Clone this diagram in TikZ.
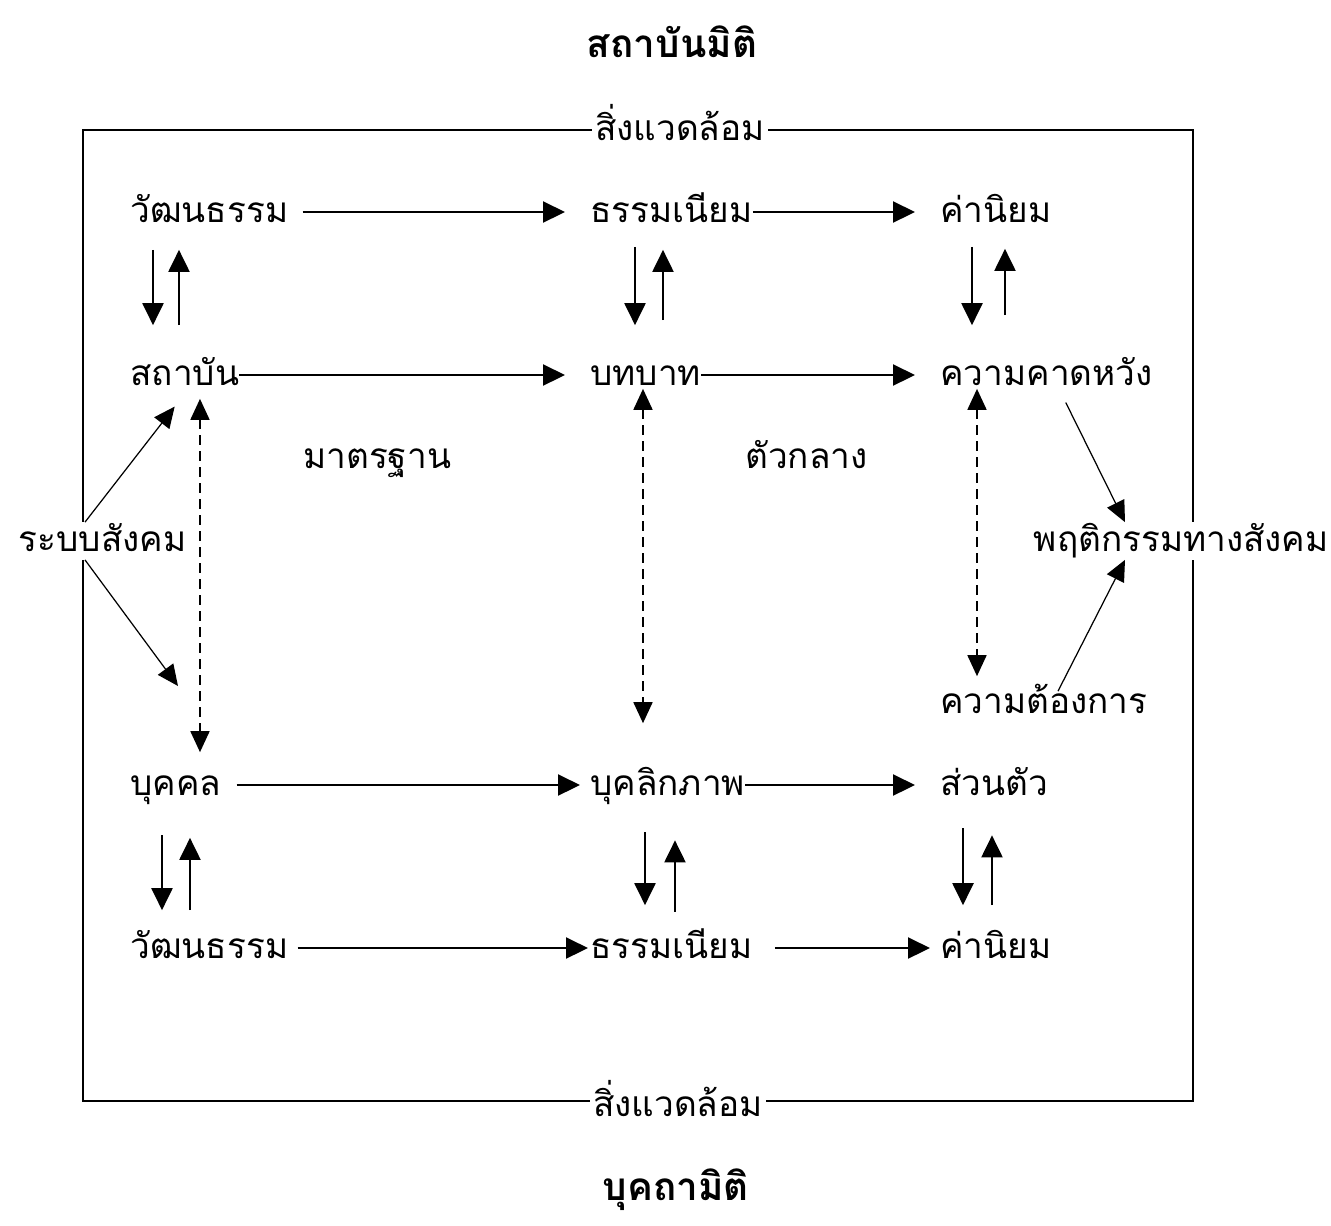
\documentclass[tikz,border=0pt]{standalone}
\usepackage{fontspec}
\usepackage{tikz}
\usetikzlibrary{arrows.meta}
\newfontfamily\thaifont[Script=Thai]{Loma}

\begin{document}
\begin{tikzpicture}[x=0.02cm,y=-0.02cm,
	lbl/.style={font=\thaifont\fontsize{20}{24}\selectfont,inner sep=0pt,anchor=west,text height=0.44cm,text depth=0.02cm},
	gap/.style={fill=white,inner xsep=2pt,inner ysep=4pt},
	head/.style={font=\thaifont\bfseries\fontsize{22}{26}\selectfont},
	flow/.style={-{Triangle[length=0.44cm,width=0.42cm]},line width=1.2pt},
	link/.style={-{Triangle[length=0.42cm,width=0.38cm]},line width=0.7pt},
	both/.style={{Triangle[length=0.42cm,width=0.38cm]}-{Triangle[length=0.42cm,width=0.38cm]},line width=1pt,dash pattern=on 0.2cm off 0.12cm}]
	
	\useasboundingbox (0,0) rectangle (1331,1225);
	
	% Draw the frame
	\draw[line width=1.2pt] (83,130) rectangle (1193,1101);
	
	% Draw nodes
	\node[head] (IT) at (672,42) {สถาบันมิติ};
	\node[head] (PT) at (676,1190) {บุคถามิติ};
	\node[lbl,anchor=center,gap] (EnvT) at (680,130) {สิ่งแวดล้อม};
	\node[lbl,anchor=center,gap] (EnvB) at (678,1106) {สิ่งแวดล้อม};
	
	\node[lbl] (W1) at (130,212) {วัฒนธรรม};
	\node[lbl] (T1) at (590,212) {ธรรมเนียม};
	\node[lbl] (V1) at (940,212) {ค่านิยม};
	\node[lbl] (Ins) at (130,375) {สถาบัน};
	\node[lbl] (Role) at (590,375) {บทบาท};
	\node[lbl] (Exp) at (940,375) {ความคาดหวัง};
	\node[lbl] (Std) at (303,458) {มาตรฐาน};
	\node[lbl] (Med) at (745,458) {ตัวกลาง};
	\node[lbl,gap] (Soc) at (15,541) {ระบบสังคม};
	\node[lbl,gap] (Beh) at (1030,541) {พฤติกรรมทางสังคม};
	\node[lbl] (Need) at (940,703) {ความต้องการ};
	\node[lbl] (Ind) at (130,785) {บุคคล};
	\node[lbl] (Pers) at (590,785) {บุคลิกภาพ};
	\node[lbl] (Own) at (940,785) {ส่วนตัว};
	\node[lbl] (W2) at (130,948) {วัฒนธรรม};
	\node[lbl] (T2) at (590,948) {ธรรมเนียม};
	\node[lbl] (V2) at (940,948) {ค่านิยม};
	
	\coordinate (IndIn) at (178,686);
	
	% Draw arrows along the rows
	\draw[flow,shorten <=0.28cm,shorten >=0.5cm] (W1) -- (T1);
	\draw[flow,shorten >=0.5cm] (T1) -- (V1);
	\draw[flow,shorten >=0.5cm] (Ins) -- (Role);
	\draw[flow,shorten >=0.5cm] (Role) -- (Exp);
	\draw[flow,shorten <=0.3cm,shorten >=0.2cm] (Ind) -- (Pers);
	\draw[flow,shorten >=0.5cm] (Pers) -- (Own);
	\draw[flow,shorten <=0.18cm,shorten >=0.04cm] (W2) -- (T2);
	\draw[flow,shorten <=0.44cm,shorten >=0.2cm] (T2) -- (V2);
	
	% Draw arrows up and down, institution side
	\draw[flow,shorten <=0.52cm,shorten >=0.76cm] ([xshift=0.46cm]W1.south west) -- ([xshift=0.46cm]Ins.north west);
	\draw[flow,shorten <=0.76cm,shorten >=0.52cm] ([xshift=0.98cm]Ins.north west) -- ([xshift=0.98cm]W1.south west);
	\draw[flow,shorten <=0.46cm,shorten >=0.76cm] ([xshift=0.9cm]T1.south west) -- ([xshift=0.9cm]Role.north west);
	\draw[flow,shorten <=0.86cm,shorten >=0.52cm] ([xshift=1.46cm]Role.north west) -- ([xshift=1.46cm]T1.south west);
	\draw[flow,shorten <=0.46cm,shorten >=0.76cm] ([xshift=0.64cm]V1.south west) -- ([xshift=0.64cm]Exp.north west);
	\draw[flow,shorten <=0.96cm,shorten >=0.5cm] ([xshift=1.3cm]Exp.north west) -- ([xshift=1.3cm]V1.south west);
	
	% Draw arrows up and down, individual side
	\draw[flow,shorten <=0.77cm,shorten >=0.52cm] ([xshift=0.64cm]Ind.south west) -- ([xshift=0.64cm]W2.north west);
	\draw[flow,shorten <=0.52cm,shorten >=0.82cm] ([xshift=1.2cm]W2.north west) -- ([xshift=1.2cm]Ind.south west);
	\draw[flow,shorten <=0.71cm,shorten >=0.62cm] ([xshift=1.1cm]Pers.south west) -- ([xshift=1.1cm]T2.north west);
	\draw[flow,shorten <=0.49cm,shorten >=0.87cm] ([xshift=1.7cm]T2.north west) -- ([xshift=1.7cm]Pers.south west);
	\draw[flow,shorten <=0.63cm,shorten >=0.62cm] ([xshift=0.46cm]Own.south west) -- ([xshift=0.46cm]V2.north west);
	\draw[flow,shorten <=0.62cm,shorten >=0.77cm] ([xshift=1.04cm]V2.north west) -- ([xshift=1.04cm]Own.south west);
	
	% Draw dashed links between the two sides
	\draw[both,shorten <=0.24cm,shorten >=0.42cm] ([xshift=1.4cm]Ins.south west) -- ([xshift=1.4cm]Ind.north west);
	\draw[both,shorten <=0.04cm,shorten >=1.0cm] ([xshift=1.06cm]Role.south west) -- ([xshift=1.06cm]Pers.north west);
	\draw[both,shorten <=0.04cm,shorten >=0.3cm] ([xshift=0.74cm]Exp.south west) -- ([xshift=0.74cm]Need.north west);
	
	% Draw the thin links
	\draw[link,shorten >=0.5cm] ([xshift=1.4cm]Soc.north west) -- ([xshift=1.2cm]Ins.south west);
	\draw[link] ([xshift=1.4cm]Soc.south west) -- (IndIn);
	\draw[link,shorten <=0.35cm] ([xshift=2.36cm]Exp.south west) -- ([xshift=1.9cm]Beh.north west);
	\draw[link] ([xshift=2.36cm]Need.north west) -- ([xshift=1.9cm]Beh.south west);
	
\end{tikzpicture}
\end{document}
